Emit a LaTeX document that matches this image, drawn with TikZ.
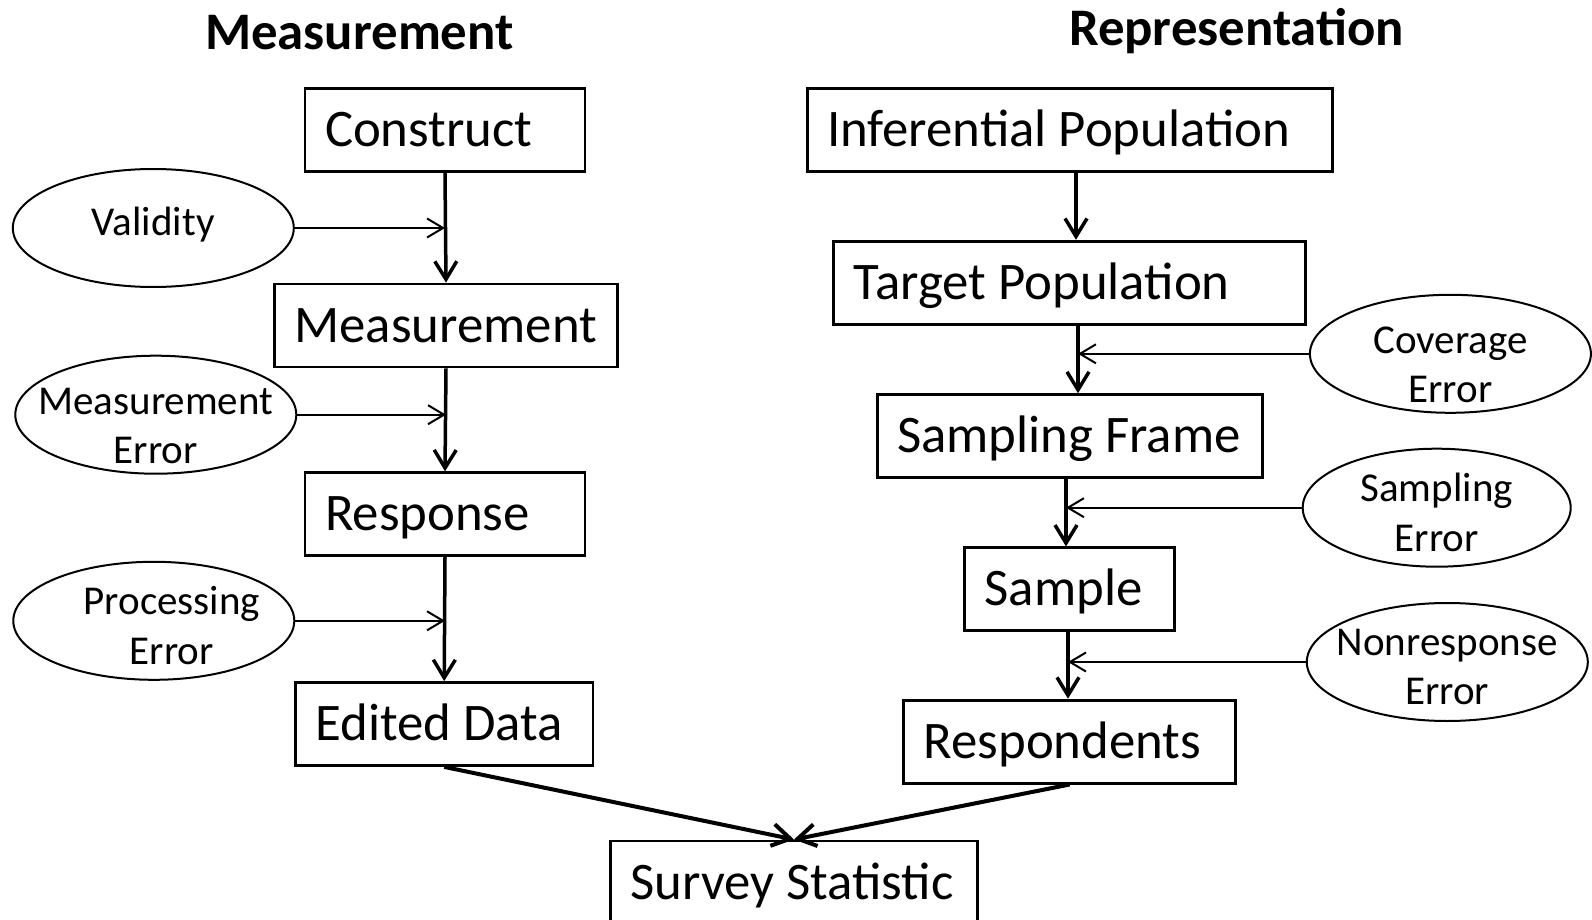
\documentclass[tikz,border=0pt]{standalone}
\usepackage{fontspec}
\setmainfont{Carlito}
\usetikzlibrary{arrows.meta,shapes.geometric}
\newcommand\bxt[2]{\makebox[#1][l]{#2}}
\begin{document}
\begin{tikzpicture}[x=0.5pt,y=-0.5pt,
  boxnode/.style={draw, line width=1.4pt, minimum height=41.5pt, inner xsep=10pt, inner ysep=0pt,
    text height=16.6pt, text depth=0pt, font=\fontsize{26.4pt}{31pt}\selectfont},
  errnode/.style={draw, ellipse, line width=1pt, minimum width=140.5pt, minimum height=59pt,
    inner sep=0pt},
  errtext/.style={align=center, inner sep=0pt, font=\fontsize{20.5pt}{24.8pt}\selectfont},
  titlenode/.style={anchor=base, font=\bfseries\fontsize{26.4pt}{30pt}\selectfont},
  mainarrow/.style={line width=1.75pt, -{Straight Barb[length=9pt,width=11pt]}},
  sidearrow/.style={line width=1pt, -{Straight Barb[length=8pt,width=9.5pt]}},
]
\useasboundingbox[fill=white] (0,0) rectangle (1592,920);

% titles
\node[titlenode] (tmeas) at (359.4,49.5) {Measurement};
\node[titlenode] (trep) at (1236.6,46) {Representation};

% measurement column
\node[boxnode] (cons) at (445,130) {\bxt{120pt}{Construct}};
\node[boxnode] (meas) at (446,325.5) {\bxt{151.5pt}{Measurement}};
\node[boxnode] (resp) at (445,514.2) {\bxt{120pt}{Response}};
\node[boxnode] (edit) at (444.2,724) {\bxt{128.75pt}{Edited Data}};

% representation column
\node[boxnode] (ip) at (1069.6,130) {\bxt{242.5pt}{Inferential Population}};
\node[boxnode] (tp) at (1069.6,282.7) {\bxt{216pt}{Target Population}};
\node[boxnode] (sf) at (1069.6,436.1) {\bxt{172.5pt}{Sampling Frame}};
\node[boxnode] (samp) at (1069.6,589.3) {\bxt{85pt}{Sample}};
\node[boxnode] (rsp) at (1069.6,741.6) {\bxt{146pt}{Respondents}};

% survey statistic
\node[boxnode] (ss) at (794,882.4) {\bxt{163.75pt}{Survey Statistic}};

% error ellipses
\node[errnode, label={[errtext, yshift=1.5pt]center:Validity}] (val) at (153.3,228) {};
\node[errnode, label={[errtext, yshift=-5.6pt]center:Measurement\\Error}] (merr) at (155.8,414.7) {};
\node[errnode, label={[errtext, xshift=9pt, yshift=-2.5pt]center:Processing\\Error}] (perr) at (153.8,620.8) {};
\node[errnode, label={[errtext, yshift=-5.6pt]center:Coverage\\Error}] (cov) at (1450.4,353.8) {};
\node[errnode, minimum width=134pt, label={[errtext, yshift=-2.5pt]center:Sampling\\Error}] (serr) at (1436.7,507.7) {};
\node[errnode, label={[errtext, yshift=-2.5pt]center:Nonresponse\\Error}] (nerr) at (1447.3,662) {};

% vertical line positions on the right
\coordinate (v1) at ([xshift=3.2pt]ip.south);
\coordinate (v2) at ([xshift=4.2pt]tp.south);
\coordinate (v3) at ([xshift=-1.8pt]sf.south);
\coordinate (v4) at ([xshift=-0.8pt]samp.south);

% main arrows
\draw[mainarrow] (cons.south) -- (meas.north);
\draw[mainarrow] (meas.south) -- (resp.north);
\draw[mainarrow] (resp.south) -- (edit.north);
\draw[mainarrow] (v1) -- (v1 |- tp.north);
\draw[mainarrow] (v2) -- (v2 |- sf.north);
\draw[mainarrow] (v3) -- (v3 |- samp.north);
\draw[mainarrow] (v4) -- (v4 |- rsp.north);
\draw[mainarrow, line width=2pt] (edit.south) -- (ss.north);
\draw[mainarrow, line width=2pt] (rsp.south) -- (ss.north);

% error arrows
\draw[sidearrow] (val.east) -- (val.east -| cons.south);
\draw[sidearrow] (merr.east) -- (merr.east -| meas.south);
\draw[sidearrow] (perr.east) -- (perr.east -| resp.south);
\draw[sidearrow] (cov.west) -- (cov.west -| v2);
\draw[sidearrow] (serr.west) -- (serr.west -| v3);
\draw[sidearrow] (nerr.west) -- (nerr.west -| v4);
\end{tikzpicture}
\end{document}
